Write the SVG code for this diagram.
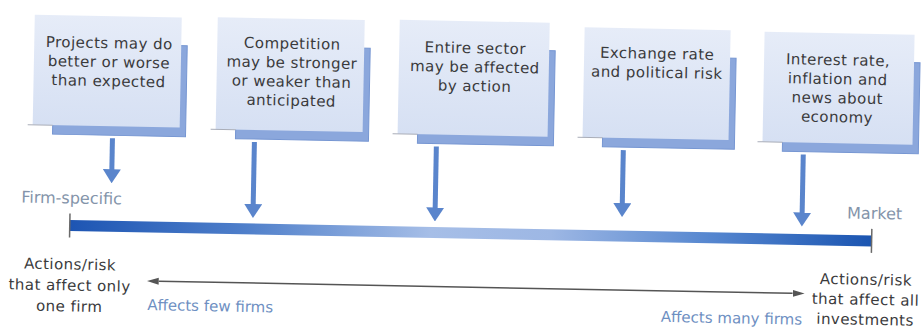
<svg xmlns="http://www.w3.org/2000/svg" width="924" height="329" viewBox="0 0 924 329">
  <defs>
    <linearGradient id="boxFill" x1="0" y1="0" x2="0" y2="1">
      <stop offset="0" stop-color="#e6ecf8"/>
      <stop offset="1" stop-color="#d6e0f3"/>
    </linearGradient>
    <linearGradient id="barFill" gradientUnits="userSpaceOnUse" x1="71" y1="0" x2="873" y2="0">
      <stop offset="0" stop-color="#1d55b3"/>
      <stop offset="0.22" stop-color="#4f7fca"/>
      <stop offset="0.45" stop-color="#a6bee7"/>
      <stop offset="0.6" stop-color="#9db7e4"/>
      <stop offset="0.8" stop-color="#5586cf"/>
      <stop offset="1" stop-color="#1b55b1"/>
    </linearGradient>
    <marker id="blueHead" markerUnits="userSpaceOnUse" viewBox="0 -9 14 18" markerWidth="14" markerHeight="18" refX="1" refY="0" orient="auto">
      <path d="M0,-9 L14,0 L0,9 Z" fill="#5a85cc"/>
    </marker>
    <marker id="greyHead" markerUnits="userSpaceOnUse" viewBox="0 -4 12 8" markerWidth="12" markerHeight="8" refX="0" refY="0" orient="auto-start-reverse">
      <path d="M0,-3.5 L12,0 L0,3.5 Z" fill="#555"/>
    </marker>
  </defs>
  <style>
    .front { fill: url(#boxFill); }
    .shadow { fill: #8ba7dc; stroke: #7696d2; stroke-width: 1; }
    .edge { stroke: #a9adb8; stroke-width: 1; }
    .boxtxt { font-family: "DejaVu Sans", "Liberation Sans", sans-serif; font-size: 15px; letter-spacing: 0.45px; fill: #3a3a3c; text-anchor: middle; }
    .endtxt { font-family: "DejaVu Sans", "Liberation Sans", sans-serif; font-size: 16px; fill: #8494aa; }
    .captxt { font-family: "DejaVu Sans", "Liberation Sans", sans-serif; font-size: 15px; letter-spacing: 0.45px; fill: #3a3a3c; text-anchor: middle; }
    .bluetxt { font-family: "DejaVu Sans", "Liberation Sans", sans-serif; font-size: 15px; fill: #6e8fc2; }
    .down { stroke: #5a85cc; stroke-width: 5; fill: none; marker-end: url(#blueHead); }
    .tick { stroke: #6a6a6a; stroke-width: 1.5; }
    .span { stroke: #555; stroke-width: 1.5; fill: none; marker-start: url(#greyHead); marker-end: url(#greyHead); }
  </style>
  <rect width="924" height="329" fill="#ffffff"/>
  <g transform="rotate(1.1 462 165)">
    <g id="box1">
      <rect class="shadow" x="52" y="51" width="133" height="91"/>
      <rect class="front" x="32" y="23" width="147" height="110"/>
      <line class="edge" x1="27" y1="133" x2="52" y2="133"/>
      <text class="boxtxt" x="107" y="55">Projects may do</text>
      <text class="boxtxt" x="107" y="74">better or worse</text>
      <text class="boxtxt" x="107" y="93">than expected</text>
    </g>
    <g id="box2">
      <rect class="shadow" x="235" y="50" width="133" height="93"/>
      <rect class="front" x="215" y="22" width="147" height="112"/>
      <line class="edge" x1="210" y1="134" x2="235" y2="134"/>
      <text class="boxtxt" x="290" y="52">Competition</text>
      <text class="boxtxt" x="290" y="71">may be stronger</text>
      <text class="boxtxt" x="290" y="90">or weaker than</text>
      <text class="boxtxt" x="290" y="109">anticipated</text>
    </g>
    <g id="box3">
      <rect class="shadow" x="417" y="49" width="136" height="95"/>
      <rect class="front" x="397" y="21" width="150" height="114"/>
      <line class="edge" x1="392" y1="135" x2="417" y2="135"/>
      <text class="boxtxt" x="473" y="53">Entire sector</text>
      <text class="boxtxt" x="473" y="72">may be affected</text>
      <text class="boxtxt" x="473" y="91">by action</text>
    </g>
    <g id="box4">
      <rect class="shadow" x="602" y="53" width="132" height="91"/>
      <rect class="front" x="582" y="25" width="146" height="110"/>
      <line class="edge" x1="577" y1="135" x2="602" y2="135"/>
      <text class="boxtxt" x="655" y="55">Exchange rate</text>
      <text class="boxtxt" x="655" y="74">and political risk</text>
    </g>
    <g id="box5">
      <rect class="shadow" x="782" y="54" width="136" height="91"/>
      <rect class="front" x="762" y="26" width="150" height="110"/>
      <line class="edge" x1="757" y1="136" x2="782" y2="136"/>
      <text class="boxtxt" x="836" y="58">Interest rate,</text>
      <text class="boxtxt" x="836" y="77">inflation and</text>
      <text class="boxtxt" x="836" y="96">news about</text>
      <text class="boxtxt" x="836" y="115">economy</text>
    </g>
    <g id="connectors">
      <line class="down" x1="112" y1="145" x2="112" y2="177"/>
      <line class="down" x1="254" y1="146" x2="254" y2="209"/>
      <line class="down" x1="436" y1="147" x2="436" y2="209"/>
      <line class="down" x1="623" y1="147" x2="623" y2="201"/>
      <line class="down" x1="803" y1="148" x2="803" y2="207"/>
      <rect x="71" y="227.5" width="802" height="11" fill="url(#barFill)"/>
      <line class="tick" x1="71" y1="221" x2="71" y2="245"/>
      <line class="tick" x1="873" y1="221" x2="873" y2="245"/>
      <line class="span" x1="161" y1="287" x2="795" y2="287"/>
    </g>
    <g id="scale-labels">
      <text class="endtxt" x="22" y="211">Firm-specific</text>
      <text class="endtxt" x="903" y="211" text-anchor="end">Market</text>
      <text class="captxt" x="72" y="277">Actions/risk</text>
      <text class="captxt" x="72" y="298">that affect only</text>
      <text class="captxt" x="72" y="319">one firm</text>
      <text class="captxt" x="868" y="277">Actions/risk</text>
      <text class="captxt" x="868" y="297">that affect all</text>
      <text class="captxt" x="868" y="317">investments</text>
      <text class="bluetxt" x="150" y="316">Affects few firms</text>
      <text class="bluetxt" x="805" y="318" text-anchor="end">Affects many firms</text>
    </g>
  </g>
</svg>
